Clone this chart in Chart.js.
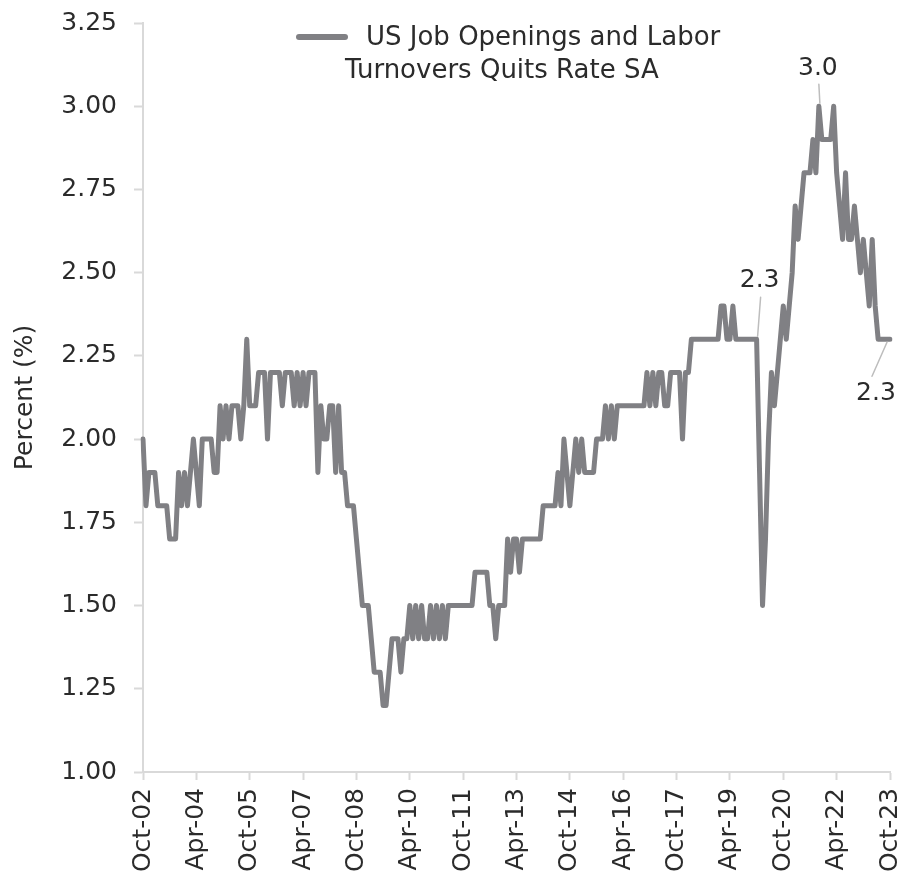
<!DOCTYPE html>
<html>
<head>
<meta charset="utf-8">
<title>US Job Openings and Labor Turnovers Quits Rate SA</title>
<script src="https://cdn.jsdelivr.net/npm/chart.js@4.4.0/dist/chart.umd.min.js"></script>
<style>
  body { margin: 0; background: #fff; }
  canvas { display: block; }
</style>
</head>
<body>
<canvas id="chart" width="901" height="881"></canvas>
<script>
// monthly categories, Oct 2002 .. Oct 2023
const startYear = 2002;
const startMonth = 9; // October
const monthCount = 253;
const monthNames = ['Jan', 'Feb', 'Mar', 'Apr', 'May', 'Jun', 'Jul', 'Aug', 'Sep', 'Oct', 'Nov', 'Dec'];

// quits rate (%)
const quitsRate = [
    2.0, 1.8, 1.9, 1.9, 1.9, 1.8, 1.8, 1.8, 1.8, 1.7,
    1.7, 1.7, 1.9, 1.8, 1.9, 1.8, 1.9, 2.0, 1.9, 1.8,
    2.0, 2.0, 2.0, 2.0, 1.9, 1.9, 2.1, 2.0, 2.1, 2.0,
    2.1, 2.1, 2.1, 2.0, 2.1, 2.3, 2.1, 2.1, 2.1, 2.2,
    2.2, 2.2, 2.0, 2.2, 2.2, 2.2, 2.2, 2.1, 2.2, 2.2,
    2.2, 2.1, 2.2, 2.1, 2.2, 2.1, 2.2, 2.2, 2.2, 1.9,
    2.1, 2.0, 2.0, 2.1, 2.1, 1.9, 2.1, 1.9, 1.9, 1.8,
    1.8, 1.8, 1.7, 1.6, 1.5, 1.5, 1.5, 1.4, 1.3, 1.3,
    1.3, 1.2, 1.2, 1.3, 1.4, 1.4, 1.4, 1.3, 1.4, 1.4,
    1.5, 1.4, 1.5, 1.4, 1.5, 1.4, 1.4, 1.5, 1.4, 1.5,
    1.4, 1.5, 1.4, 1.5, 1.5, 1.5, 1.5, 1.5, 1.5, 1.5,
    1.5, 1.5, 1.6, 1.6, 1.6, 1.6, 1.6, 1.5, 1.5, 1.4,
    1.5, 1.5, 1.5, 1.7, 1.6, 1.7, 1.7, 1.6, 1.7, 1.7,
    1.7, 1.7, 1.7, 1.7, 1.7, 1.8, 1.8, 1.8, 1.8, 1.8,
    1.9, 1.8, 2.0, 1.9, 1.8, 1.9, 2.0, 1.9, 2.0, 1.9,
    1.9, 1.9, 1.9, 2.0, 2.0, 2.0, 2.1, 2.0, 2.1, 2.0,
    2.1, 2.1, 2.1, 2.1, 2.1, 2.1, 2.1, 2.1, 2.1, 2.1,
    2.2, 2.1, 2.2, 2.1, 2.2, 2.2, 2.1, 2.1, 2.2, 2.2,
    2.2, 2.2, 2.0, 2.2, 2.2, 2.3, 2.3, 2.3, 2.3, 2.3,
    2.3, 2.3, 2.3, 2.3, 2.3, 2.4, 2.4, 2.3, 2.3, 2.4,
    2.3, 2.3, 2.3, 2.3, 2.3, 2.3, 2.3, 2.3, 1.9, 1.5,
    1.7, 2.0, 2.2, 2.1, 2.2, 2.3, 2.4, 2.3, 2.4, 2.5,
    2.7, 2.6, 2.7, 2.8, 2.8, 2.8, 2.9, 2.8, 3.0, 2.9,
    2.9, 2.9, 2.9, 3.0, 2.8, 2.7, 2.6, 2.8, 2.6, 2.6,
    2.7, 2.6, 2.5, 2.6, 2.5, 2.4, 2.6, 2.4, 2.3, 2.3,
    2.3, 2.3, 2.3
];

// y axis
const yMin = 1.0;
const yMax = 3.25;
const yStep = 0.25;
const xTickEvery = 18;

// labelled points: [month index, text]
const callouts = [
    [228, '3.0'],
    [207, '2.3'],
    [252, '2.3']
];

const legendLines = ['US Job Openings and Labor', 'Turnovers Quits Rate SA'];

const labels = [];
for (let i = 0; i < monthCount; i++) {
    const m = startMonth + i;
    const yy = (startYear + Math.floor(m / 12)) % 100;
    labels.push(monthNames[m % 12] + '-' + String(yy).padStart(2, '0'));
}

const lineColor = '#808084';
const axisColor = '#d9d9d9';
const textColor = '#2b2b2b';
const fontFamily = '"DejaVu Sans", Verdana, sans-serif';

// legend + data callouts drawn on the canvas
const extrasPlugin = {
    id: 'extras',
    afterDatasetsDraw(chart) {
        const ctx = chart.ctx;
        const xs = chart.scales.x;
        const ys = chart.scales.y;
        ctx.save();

        // legend
        ctx.strokeStyle = lineColor;
        ctx.lineWidth = 6;
        ctx.lineCap = 'round';
        ctx.beginPath();
        ctx.moveTo(299, 37);
        ctx.lineTo(345, 37);
        ctx.stroke();
        ctx.fillStyle = textColor;
        ctx.font = '26px ' + fontFamily;
        ctx.textBaseline = 'middle';
        ctx.textAlign = 'left';
        ctx.fillText(legendLines[0], 366, 38);
        ctx.fillText(legendLines[1], 345, 71);

        // callouts
        const offsets = {
            228: { tx: -1, ty: -38, l1: [0, -22], l2: [1, -3] },
            207: { tx: 3, ty: -59, l1: [4, -42], l2: [1, -3] },
            252: { tx: -14, ty: 54, l1: [-18, 37], l2: [-3, 3] }
        };
        ctx.font = '25px ' + fontFamily;
        ctx.textAlign = 'center';
        callouts.forEach(([idx, text]) => {
            const px = xs.getPixelForValue(idx);
            const py = ys.getPixelForValue(quitsRate[idx]);
            const o = offsets[idx];
            ctx.strokeStyle = '#bdbdbd';
            ctx.lineWidth = 1.5;
            ctx.beginPath();
            ctx.moveTo(px + o.l1[0], py + o.l1[1]);
            ctx.lineTo(px + o.l2[0], py + o.l2[1]);
            ctx.stroke();
            ctx.fillStyle = textColor;
            ctx.fillText(text, px + o.tx, py + o.ty);
        });
        ctx.restore();
    }
};

const ctx = document.getElementById('chart').getContext('2d');
const quitsChart = new Chart(ctx, {
    type: 'line',
    data: {
        labels: labels,
        datasets: [{
            label: legendLines.join(' '),
            data: quitsRate,
            borderColor: lineColor,
            borderWidth: 5,
            borderJoinStyle: 'round',
            borderCapStyle: 'round',
            pointRadius: 0,
            tension: 0,
            fill: false
        }]
    },
    options: {
        responsive: false,
        devicePixelRatio: 1,
        animation: false,
        layout: { padding: { top: 23, right: 11, bottom: 0, left: 0 } },
        plugins: {
            legend: { display: false },
            tooltip: { enabled: false }
        },
        scales: {
            x: {
                type: 'category',
                offset: false,
                border: { display: true, color: axisColor, width: 2 },
                grid: {
                    drawOnChartArea: false,
                    drawTicks: true,
                    tickLength: 8,
                    tickWidth: 2,
                    color: (c) => (c.index % xTickEvery === 0 ? axisColor : 'rgba(0,0,0,0)')
                },
                ticks: {
                    autoSkip: false,
                    minRotation: 90,
                    maxRotation: 90,
                    padding: 8,
                    color: textColor,
                    font: { family: fontFamily, size: 25 },
                    callback: (value, index) => (index % xTickEvery === 0 ? labels[index] : '')
                },
                afterFit: (scale) => {
                    scale.height = 109;
                    scale.paddingLeft = 0;
                    scale.paddingRight = 0;
                }
            },
            y: {
                min: yMin,
                max: yMax,
                border: { display: true, color: axisColor, width: 2 },
                grid: {
                    drawOnChartArea: false,
                    drawTicks: true,
                    tickLength: 9,
                    tickWidth: 2,
                    color: axisColor
                },
                ticks: {
                    stepSize: yStep,
                    padding: 17,
                    color: textColor,
                    font: { family: fontFamily, size: 25 },
                    callback: (value) => value.toFixed(2)
                },
                title: {
                    display: true,
                    text: 'Percent (%)',
                    color: textColor,
                    font: { family: fontFamily, size: 25 },
                    padding: { top: 10, bottom: 0 }
                },
                afterFit: (scale) => {
                    scale.width = 143;
                    scale.paddingTop = 0;
                    scale.paddingBottom = 0;
                }
            }
        }
    },
    plugins: [extrasPlugin]
});
</script>
</body>
</html>
